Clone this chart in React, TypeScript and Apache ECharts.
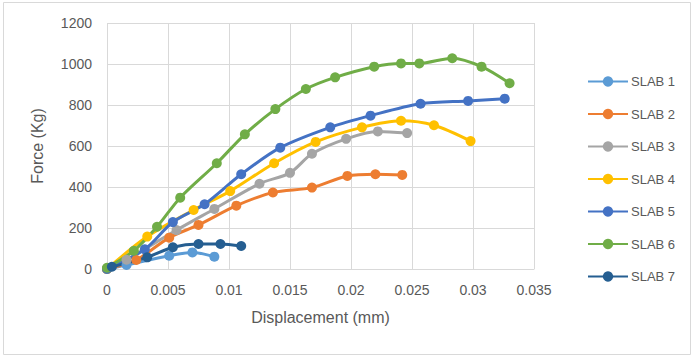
import React, { useEffect, useRef } from "react";
import * as echarts from "echarts";

const seriesNames = ["SLAB 1", "SLAB 2", "SLAB 3", "SLAB 4", "SLAB 5", "SLAB 6", "SLAB 7"];
const colors = ["#5B9BD5", "#ED7D31", "#A5A5A5", "#FFC000", "#4472C4", "#70AD47", "#255E91"];

const slab1: [number, number][] = [[0, 0], [0.0016, 20], [0.0051, 65], [0.007, 81], [0.0088, 60]];
const slab2: [number, number][] = [[0, 0], [0.0024, 44], [0.0051, 153], [0.0075, 215], [0.0106, 309], [0.0136, 373], [0.0168, 397], [0.0197, 454], [0.022, 462], [0.0242, 459]];
const slab3: [number, number][] = [[0, 0], [0.0016, 45], [0.0057, 190], [0.0088, 293], [0.0125, 416], [0.015, 469], [0.0168, 562], [0.0196, 635], [0.0222, 671], [0.0246, 663]];
const slab4: [number, number][] = [[0, 0], [0.0033, 158], [0.0071, 288], [0.0101, 380], [0.0137, 516], [0.0171, 620], [0.0209, 691], [0.0241, 723], [0.0268, 701], [0.0298, 624]];
const slab5: [number, number][] = [[0, 0], [0.0031, 96], [0.0054, 229], [0.008, 316], [0.011, 462], [0.0142, 592], [0.0183, 691], [0.0216, 748], [0.0257, 806], [0.0296, 820], [0.0326, 831]];
const slab6: [number, number][] = [[0, 6], [0.0022, 89], [0.0041, 206], [0.006, 348], [0.009, 516], [0.0113, 657], [0.0138, 780], [0.0163, 878], [0.0187, 935], [0.0219, 987], [0.0241, 1003], [0.0256, 1003], [0.0283, 1028], [0.0307, 987], [0.033, 906]];
const slab7: [number, number][] = [[0.0004, 11], [0.0033, 57], [0.0054, 106], [0.0075, 122], [0.0093, 122], [0.011, 112]];

const allData = [slab1, slab2, slab3, slab4, slab5, slab6, slab7];

export default function App() {
  const ref = useRef<HTMLDivElement>(null);
  useEffect(() => {
    if (!ref.current) return;
    const chart = echarts.init(ref.current, null, { renderer: "svg" });
    const font = "'Liberation Sans', Arial, sans-serif";
    chart.setOption({
      animation: false,
      backgroundColor: "#FFFFFF",
      textStyle: { fontFamily: font },
      grid: { left: 107, top: 23, right: 160, bottom: 88 },
      xAxis: {
        type: "value",
        min: 0,
        max: 0.035,
        interval: 0.005,
        name: "Displacement (mm)",
        nameLocation: "middle",
        nameGap: 40,
        nameTextStyle: { color: "#595959", fontSize: 16, fontFamily: font },
        axisLine: { show: true, lineStyle: { color: "#D9D9D9" } },
        axisTick: { show: false },
        axisLabel: { color: "#595959", fontSize: 14, fontFamily: font, margin: 14 },
        splitLine: { show: true, lineStyle: { color: "#D9D9D9" } },
      },
      yAxis: {
        type: "value",
        min: 0,
        max: 1200,
        interval: 200,
        name: "Force (Kg)",
        nameLocation: "middle",
        nameGap: 62,
        nameRotate: 90,
        nameTextStyle: { color: "#595959", fontSize: 16, fontFamily: font },
        axisLine: { show: false },
        axisTick: { show: false },
        axisLabel: { color: "#595959", fontSize: 14, fontFamily: font, margin: 15, formatter: (v: number) => String(v) },
        splitLine: { show: true, lineStyle: { color: "#D9D9D9" } },
      },
      legend: {
        orient: "vertical",
        left: 582,
        top: 70,
        itemGap: 19.5,
        itemWidth: 40,
        itemHeight: 13,
        textStyle: { color: "#595959", fontSize: 13, fontFamily: font, padding: [0, 0, 0, -2] },
        data: seriesNames,
      },
      series: allData.map((d, i) => ({
        name: seriesNames[i],
        type: "line",
        data: d,
        smooth: 0.3,
        symbol: "circle",
        symbolSize: 10,
        color: colors[i],
        lineStyle: { width: 3, color: colors[i] },
        itemStyle: { color: colors[i] },
      })),
      graphic: [
        {
          type: "rect",
          shape: { x: 3.5, y: 2.5, width: 687, height: 352 },
          style: { fill: "none", stroke: "#D9D9D9", lineWidth: 1 },
          silent: true,
        },
      ],
    });
    return () => chart.dispose();
  }, []);
  return (
    <div
      ref={ref}
      style={{ position: "fixed", left: 0, top: 0, width: 694, height: 357 }}
    />
  );
}
